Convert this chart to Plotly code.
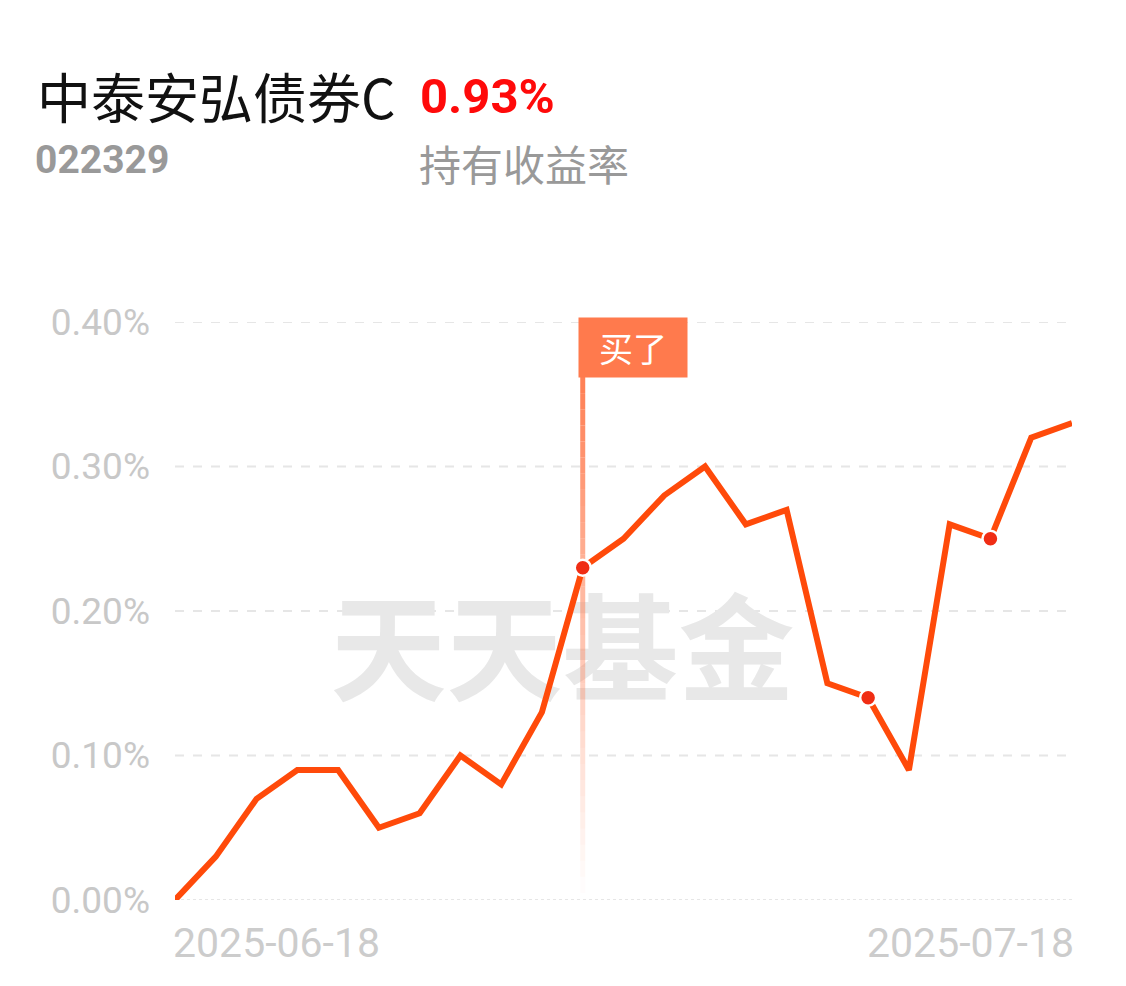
import plotly.graph_objects as go

dates = ["2025-06-18", "2025-06-19", "2025-06-20", "2025-06-23", "2025-06-24", "2025-06-25",
         "2025-06-26", "2025-06-27", "2025-06-30", "2025-07-01", "2025-07-02", "2025-07-03",
         "2025-07-04", "2025-07-07", "2025-07-08", "2025-07-09", "2025-07-10", "2025-07-11",
         "2025-07-14", "2025-07-15", "2025-07-16", "2025-07-17", "2025-07-18"]
returns = [0.00, 0.03, 0.07, 0.09, 0.09, 0.05, 0.06, 0.10, 0.08, 0.13, 0.23, 0.25,
           0.28, 0.30, 0.26, 0.27, 0.15, 0.14, 0.09, 0.26, 0.25, 0.32, 0.33]
marker_idx = [10, 17, 20]
buy_idx = 10
ytick_vals = [0.0, 0.1, 0.2, 0.3, 0.4]
ytick_text = ["0.00%", "0.10%", "0.20%", "0.30%", "0.40%"]

fund_name = "中泰安弘债券C"
fund_code = "022329"
hold_return = "0.93%"
hold_label = "持有收益率"

# page body has an 8px margin; figure coordinates = screen - 8
OFF = 8
W, H = 1110, 970
L = 175 - OFF
T = 322 - OFF
R = W - (1072 - OFF)
B = H - (900 - OFF)
pw, ph = W - L - R, H - T - B

def px(x):
    return (x - OFF - L) / pw

def py(y):
    return (H - B - (y - OFF)) / ph

def yval(y):
    return 0.4 * (900 - y) / 578

fig = go.Figure()

# Gridlines drawn as shapes (so the edge lines are kept)
for v in ytick_vals:
    fig.add_shape(type="line", xref="paper", yref="y", x0=0, x1=1, y0=v, y1=v,
                  line=dict(color="#e6e6e6", width=2, dash="dot" if v == 0 else "dash"), layer="below")

# Fading vertical marker line for the buy point
n_seg = 32
top, bottom = yval(377), yval(893)
for i in range(n_seg):
    y0 = top - (top - bottom) * i / n_seg
    y1 = top - (top - bottom) * (i + 1) / n_seg
    op = 0.95 * (1 - i / n_seg) ** 1.1
    fig.add_shape(type="line", xref="x", yref="y", x0=buy_idx, x1=buy_idx, y0=y0, y1=y1,
                  line=dict(color="rgba(255,122,77,%.3f)" % op, width=5), layer="below")

# Watermark
fig.add_shape(type="rect", xref="paper", yref="paper", x0=px(320), x1=px(805), y0=py(720), y1=py(600),
              line=dict(width=0), fillcolor="rgba(0,0,0,0)", layer="below",
              label=dict(text="<b>天天基金</b>", font=dict(family="Noto Sans CJK SC", size=116, color="#e8e8e8"),
                         textposition="middle center"))

fig.add_trace(go.Scatter(
    x=list(range(len(dates))), y=returns, mode="lines",
    line=dict(color="#FF4A0A", width=6), hoverinfo="skip", cliponaxis=False,
))
fig.add_trace(go.Scatter(
    x=marker_idx, y=[returns[i] for i in marker_idx], mode="markers",
    marker=dict(color="#F02D14", size=16, line=dict(color="white", width=2.5)),
    hoverinfo="skip", cliponaxis=False,
))

ann = []
# Buy flag
ann.append(dict(x=buy_idx, y=yval(347), xref="x", yref="y",
                xanchor="left", yanchor="middle", xshift=-5, showarrow=False,
                text="买了", font=dict(family="Noto Sans CJK SC", size=34, color="white"),
                bgcolor="#FF7A4D", width=102, height=53, borderpad=3, align="center"))
# Header
ann.append(dict(x=px(35), y=py(95), xref="paper", yref="paper", xanchor="left", yanchor="middle",
                showarrow=False, text=fund_name,
                font=dict(family="Noto Sans CJK SC", size=54, color="#111111")))
ann.append(dict(x=px(418), y=py(97), xref="paper", yref="paper", xanchor="left", yanchor="middle",
                showarrow=False, text="<b>" + hold_return + "</b>",
                font=dict(family="Roboto", size=49, color="#FF0A0A")))
ann.append(dict(x=px(33), y=py(160), xref="paper", yref="paper", xanchor="left", yanchor="middle",
                showarrow=False, text="<b>" + fund_code + "</b>",
                font=dict(family="Roboto", size=39, color="#999999")))
ann.append(dict(x=px(417), y=py(162), xref="paper", yref="paper", xanchor="left", yanchor="middle",
                showarrow=False, text=hold_label,
                font=dict(family="Noto Sans CJK SC", size=42, color="#999999")))
# X end labels
ann.append(dict(x=0, y=py(943), xref="x", yref="paper", xanchor="left", yanchor="middle",
                showarrow=False, text=dates[0], xshift=-4,
                font=dict(family="Roboto", size=41, color="#cccccc")))
ann.append(dict(x=len(dates) - 1, y=py(943), xref="x", yref="paper", xanchor="right", yanchor="middle",
                showarrow=False, text=dates[-1], xshift=4,
                font=dict(family="Roboto", size=41, color="#cccccc")))

fig.update_layout(
    width=W, height=H, margin=dict(l=L, r=R, t=T, b=B),
    paper_bgcolor="white", plot_bgcolor="white", showlegend=False,
    annotations=ann,
    xaxis=dict(range=[0, len(dates) - 1], showgrid=False, zeroline=False, showticklabels=False,
               showline=False, fixedrange=True),
    yaxis=dict(range=[0, 0.4], tickvals=ytick_vals, ticktext=ytick_text, showgrid=False,
               zeroline=False, showline=False,
               tickfont=dict(family="Roboto", size=37, color="#c8c8c8"), ticklabelstandoff=24,
               fixedrange=True),
)

fig.write_html("out.html")
